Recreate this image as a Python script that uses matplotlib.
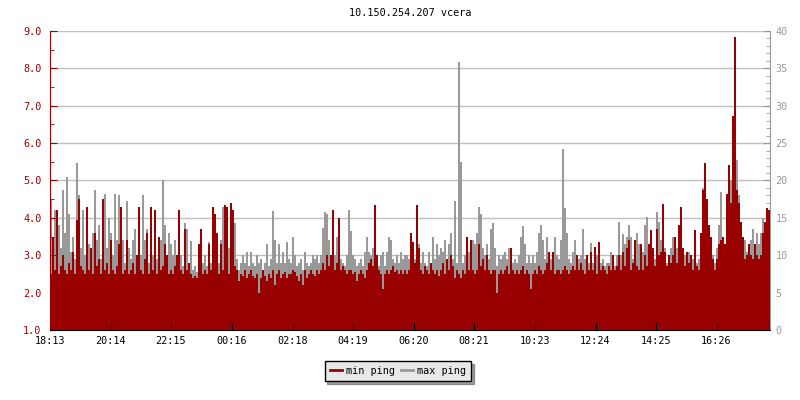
import numpy as np
import matplotlib
matplotlib.use("Agg")
import matplotlib.pyplot as plt
from matplotlib.lines import Line2D

title = "10.150.254.207 vcera"
step_min = 4  # one sample every 4 minutes, 18:13 -> 18:13 next day

# min ping (left axis), one row = 30 samples = 2 hours
min_ping = [
    2.5, 3.5, 2.6, 4.2, 2.5, 2.7, 3.0, 2.6, 2.5, 2.8, 2.6, 3.1, 2.5, 3.95, 4.5, 2.7, 2.6, 2.5, 4.3, 2.6, 3.2, 2.5, 3.6, 2.7, 2.9, 2.5, 4.5, 2.6, 2.8, 2.5,
    3.4, 2.6, 2.5, 2.7, 3.3, 4.3, 2.5, 2.6, 3.4, 2.5, 2.6, 2.8, 2.5, 3.0, 4.3, 2.6, 2.5, 2.9, 3.6, 2.5, 4.3, 2.6, 4.2, 2.5, 3.5, 2.6, 2.7, 3.3, 3.0, 2.5,
    2.6, 2.5, 2.7, 3.0, 4.2, 2.6, 2.5, 3.7, 2.6, 2.8, 2.5, 2.4, 2.45, 2.4, 3.3, 3.7, 2.5, 2.6, 2.5, 3.3, 2.6, 4.3, 4.1, 3.6, 2.5, 3.3, 2.6, 4.35, 4.3, 2.5,
    4.4, 4.2, 2.7, 2.6, 2.3, 2.5, 2.45, 2.6, 2.4, 2.5, 2.6, 2.45, 2.4, 2.5, 2.0, 2.4, 2.6, 2.45, 2.3, 2.5, 2.4, 2.6, 2.2, 2.5, 2.6, 2.4, 2.5, 2.55, 2.4, 2.5,
    2.5, 2.6, 2.55, 2.45, 2.3, 2.5, 2.2, 2.6, 2.4, 2.5, 2.6, 2.5, 2.45, 2.6, 2.5, 2.6, 2.8, 2.6, 3.0, 2.7, 3.0, 4.2, 2.6, 2.8, 4.0, 2.6, 2.7, 2.6, 2.5, 2.6,
    2.6, 2.5, 2.55, 2.3, 2.5, 2.6, 2.5, 2.4, 2.6, 2.8, 2.9, 2.7, 4.35, 3.0, 2.6, 2.5, 2.1, 2.5, 2.6, 2.5, 2.6, 2.7, 2.55, 2.6, 2.5, 2.6, 2.5, 2.6, 2.5, 2.6,
    3.6, 3.35, 2.8, 4.35, 3.2, 2.6, 2.5, 2.7, 2.6, 2.5, 2.8, 2.6, 2.5, 2.6, 2.45, 2.6, 2.8, 2.5, 2.9, 2.6, 3.0, 2.7, 2.4, 2.6, 2.5, 2.4, 2.6, 2.5, 3.5, 2.6,
    3.4, 2.6, 2.5, 2.6, 3.3, 2.7, 2.9, 2.6, 3.0, 2.6, 2.5, 2.6, 2.6, 2.0, 2.5, 2.6, 2.5, 2.6, 2.7, 2.5, 3.2, 2.6, 2.5, 2.6, 2.5, 2.6, 2.7, 2.5, 2.6, 2.5,
    2.1, 2.5, 2.6, 2.5, 2.7, 2.6, 2.5, 2.6, 2.8, 3.1, 2.6, 3.1, 2.5, 2.6, 2.6, 2.5, 2.6, 2.7, 2.6, 2.5, 2.6, 2.7, 2.6, 3.0, 2.6, 2.8, 2.6, 2.5, 3.0, 2.6,
    3.1, 2.6, 3.23, 2.5, 3.36, 2.6, 2.7, 2.6, 2.5, 2.7, 2.6, 3.0, 2.6, 2.7, 3.0, 2.6, 3.1, 2.7, 3.2, 3.4, 2.6, 2.8, 3.42, 2.7, 2.6, 3.3, 2.6, 3.0, 2.7, 3.3,
    3.67, 3.2, 2.7, 3.7, 3.0, 3.1, 4.37, 3.1, 2.7, 3.0, 2.8, 3.0, 3.5, 2.8, 3.8, 4.3, 3.2, 2.7, 3.1, 2.8, 3.0, 2.6, 3.67, 2.7, 2.6, 3.6, 4.74, 5.46, 4.5, 3.8,
    3.5, 2.9, 2.6, 2.9, 3.3, 3.4, 3.5, 3.3, 4.65, 5.41, 4.4, 6.72, 8.84, 4.74, 4.4, 3.9, 3.5, 2.9, 3.0, 3.3, 3.0, 2.9, 3.3, 3.0, 2.9, 3.0, 3.6, 3.9, 4.27, 4.2,
]

# max ping (right axis)
max_ping = [
    17.5, 11, 16, 10, 14, 11, 18.7, 13, 20.5, 15.5, 10.5, 12.5, 9.5, 22.3, 18, 11, 16, 10, 13.5, 11.5, 9, 13, 18.7, 12, 14, 9.5, 10, 18.2, 11, 15,
    13, 10, 18.2, 12, 18, 10, 12, 9, 17.2, 11, 9.5, 12, 13.5, 9, 11, 10, 18.1, 12, 13.5, 9, 11.5, 10, 13, 9.5, 11, 12, 20.1, 14, 10, 13,
    11.5, 10, 12, 9, 15.8, 10, 8.5, 14.3, 13.5, 9, 11.9, 8, 8.5, 7.8, 8.2, 11.8, 9, 10, 8.5, 11.8, 9, 12, 10, 11.5, 9, 12, 16.4, 10, 9.5, 11,
    14, 12, 14.3, 9.5, 8, 9, 10, 9, 10.5, 8.5, 10.5, 9, 8.5, 10, 9, 9.5, 8, 9, 11.5, 8.5, 9.5, 15.9, 12, 9, 11.5, 9, 10.5, 9, 11.8, 9.5,
    9, 12.4, 10, 8.5, 9, 9.5, 8, 10.5, 9, 8.5, 9, 10, 9.5, 10, 9, 10, 13.6, 15.8, 15.5, 12, 10, 11, 10, 12.5, 10.5, 9.5, 9, 8.5, 10, 16.1,
    13.2, 10, 9.5, 8.5, 9, 9.5, 8.5, 10.5, 12.5, 10.5, 10, 11, 9.5, 9, 8.5, 10, 10.5, 8.5, 10.5, 12.5, 12, 9.5, 9, 10, 9, 10.5, 9.5, 10, 10, 9.5,
    10, 11, 9.5, 9, 11.5, 9, 10.5, 9, 8.5, 10.5, 9, 12.5, 9.5, 11.5, 10, 11, 10.5, 12, 9.5, 11.5, 13, 9.5, 17.3, 9, 35.8, 22.5, 9, 10, 9, 10.5,
    10, 12, 11.5, 13, 16.4, 15.5, 11, 10, 11.5, 9.5, 13.5, 14.3, 11, 8.5, 10, 9.5, 10, 10.5, 9.5, 11, 9.5, 9, 9.5, 9, 10, 12.5, 13.9, 11.5, 9, 10,
    9, 10, 9, 10.5, 13, 14.1, 12, 9.5, 12.5, 10.5, 9.5, 10.5, 12.5, 10, 9.5, 12, 24.2, 16.3, 13, 9.5, 9, 10.5, 12, 10, 9.5, 10, 13.5, 9.5, 8.5, 9,
    11.6, 9, 8.5, 10, 9.5, 9, 9.5, 8.5, 9, 9, 10.5, 9, 8.5, 10, 14.4, 10, 12.8, 11.5, 12.5, 14, 12.5, 9.5, 10.5, 13, 11.5, 9.5, 10.5, 14, 15.1, 10,
    12, 11, 9.5, 15.8, 14.5, 12, 9.5, 11, 9, 10, 11, 12.5, 10, 11, 12.5, 13.5, 10.5, 10, 9, 10.5, 9.5, 9.5, 10, 9, 9.5, 10, 19, 22.3, 15, 13.5,
    12, 10, 9, 11, 14, 18.5, 12, 11, 14, 16.1, 20, 17, 16, 22.7, 18, 11, 9.5, 12, 10.5, 9, 12, 13.5, 11, 13, 11.5, 13, 15, 9, 12, 14.5,
]

tick_minutes = [0, 121, 242, 363, 485, 606, 727, 848, 970, 1091, 1212, 1333]
tick_labels = ["18:13", "20:14", "22:15", "00:16", "02:18", "04:19",
               "06:20", "08:21", "10:23", "12:24", "14:25", "16:26"]

red = "#990000"
grey = "#999999"
mono = "DejaVu Sans Mono"
fs = 7.3

edges = np.arange(len(min_ping) + 1) * step_min

fig = plt.figure(figsize=(8, 4), dpi=100)
ax = fig.add_axes([50 / 800, 70 / 400, 720 / 800, 299 / 400])
ax2 = ax.twinx()
ax.set_zorder(2)
ax2.set_zorder(1)
ax.patch.set_visible(False)

# max ping on the right axis, behind
ax2.stairs(max_ping, edges, fill=True, color=grey, baseline=0, linewidth=0)
ax2.set_ylim(0, 40)
ax2.set_yticks(np.arange(0, 41, 5))
ax2.set_yticks(np.arange(0, 41, 1), minor=True)
ax2.grid(True, axis="y", color="#c0c0c0", linewidth=1.0)
ax2.set_axisbelow(True)

# min ping on the left axis, in front
ax.stairs(min_ping, edges, fill=True, color=red, baseline=0, linewidth=0)
ax.set_ylim(1, 9)
ax.set_xlim(edges[0], edges[-1])
ax.set_yticks(np.arange(1, 9.01, 1))
ax.set_yticks(np.arange(1, 9.01, 0.5), minor=True)
ax.set_yticklabels(["%.1f" % v for v in np.arange(1, 9.01, 1)])
ax.set_xticks(tick_minutes)
ax.set_xticklabels(tick_labels)

ax.spines["top"].set_visible(False)
ax2.spines["top"].set_visible(False)
ax.spines["right"].set_visible(False)
ax2.spines["left"].set_visible(False)
ax2.spines["bottom"].set_visible(False)
ax.spines["left"].set_color(red)
ax.spines["bottom"].set_color("black")
ax2.spines["right"].set_color(grey)

ax.tick_params(axis="y", which="major", direction="in", length=5, color=red,
               labelcolor=red, labelsize=fs, pad=6)
ax.tick_params(axis="y", which="minor", direction="in", length=3, color=red)
ax.tick_params(axis="x", direction="in", length=5, color="black",
               labelsize=fs, pad=4)
ax2.tick_params(axis="y", which="major", direction="in", length=5, color=grey,
                labelcolor=grey, labelsize=fs, pad=4)
ax2.tick_params(axis="y", which="minor", direction="in", length=3, color=grey)
for lab in ax.get_xticklabels() + ax.get_yticklabels() + ax2.get_yticklabels():
    lab.set_family(mono)

fig.text(410 / 800, 1 - 13 / 400, title, ha="center", va="center",
         family=mono, fontsize=fs, color="black")

handles = [Line2D([], [], color=red, linewidth=2),
           Line2D([], [], color=grey, linewidth=2)]
leg = fig.legend(handles, ["min ping", "max ping"], loc="center",
                 bbox_to_anchor=(398 / 800, 1 - 371 / 400), ncol=2,
                 prop={"family": mono, "size": fs}, frameon=True,
                 fancybox=False, shadow=True, handlelength=1.2,
                 handletextpad=0.4, columnspacing=0.6, borderpad=0.5)
leg.get_frame().set_facecolor("#e8e8e8")
leg.get_frame().set_edgecolor("black")
leg.get_frame().set_alpha(1)

fig.savefig("out.png", dpi=100)
